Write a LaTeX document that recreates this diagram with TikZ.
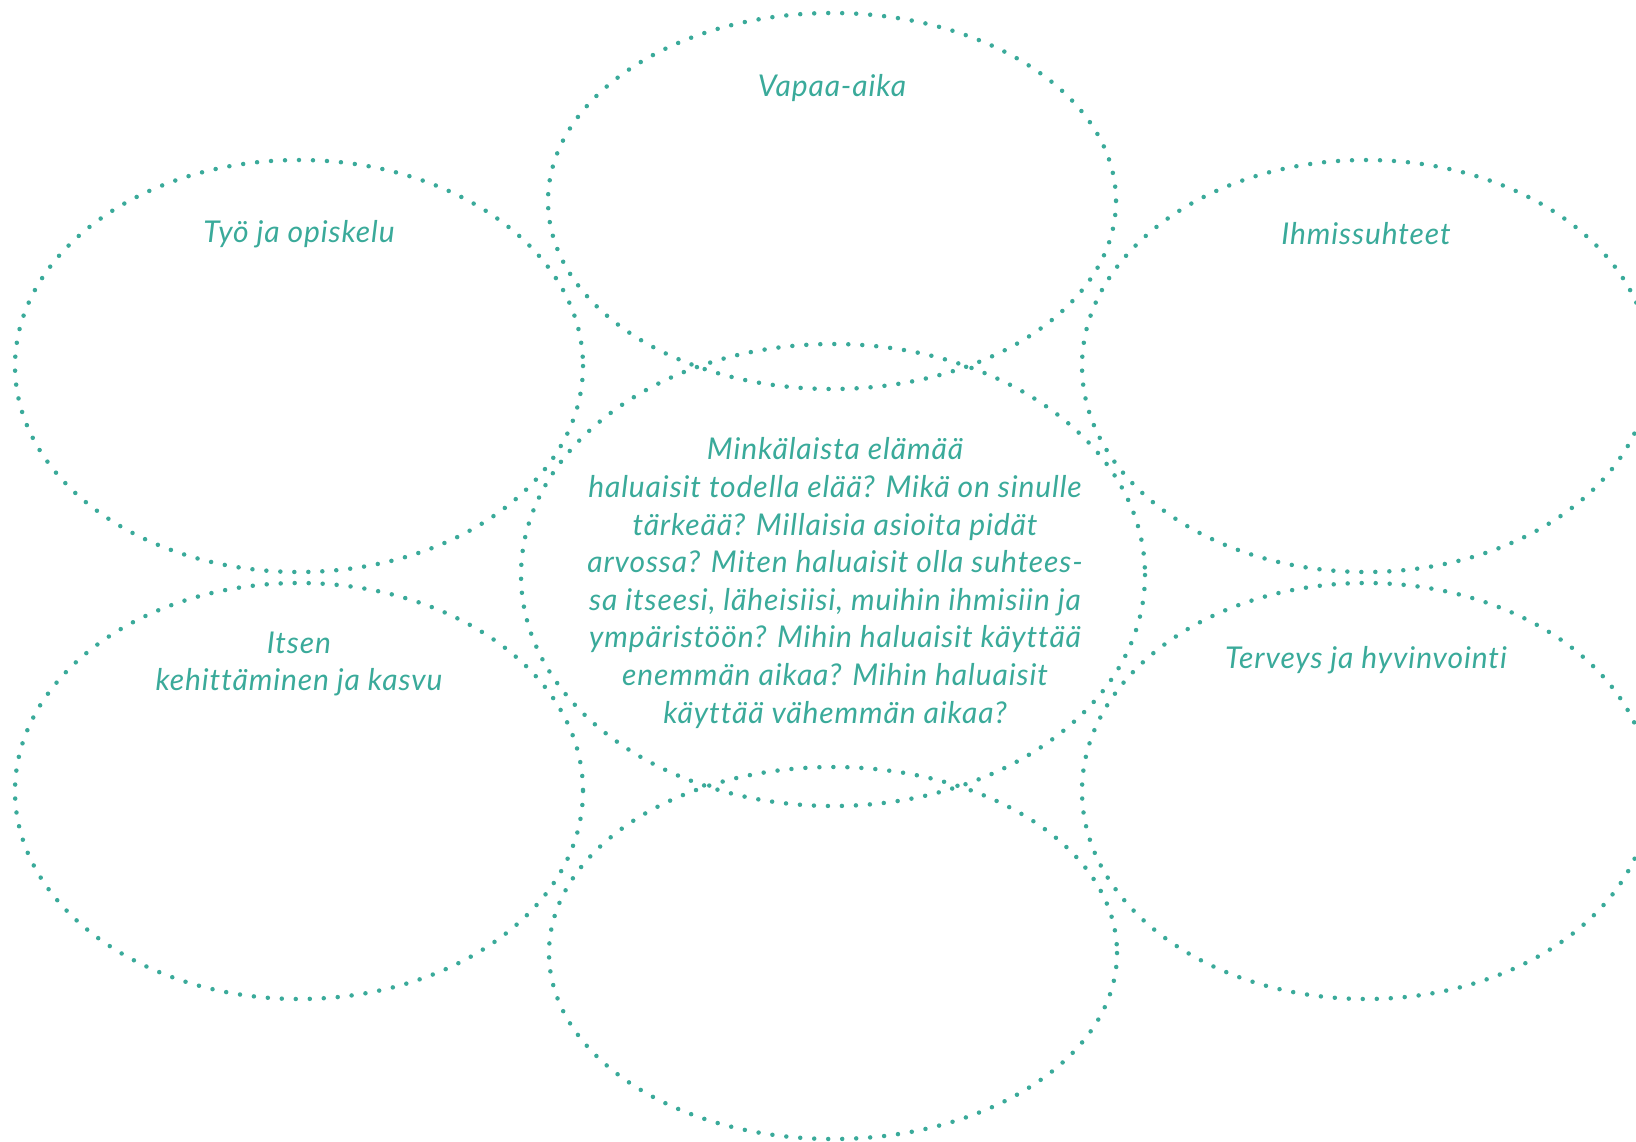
\documentclass[tikz,border=0pt]{standalone}
\usepackage{fontspec}
\setmainfont{Lato}[LetterSpace=3, Ligatures={NoCommon}]
\usepackage{tikz}
\usetikzlibrary{positioning}

\definecolor{teal}{RGB}{58,170,154}

\tikzset{
  ring/.style={draw=teal, line width=4.5pt, line cap=round, dash pattern=on 0pt off 14pt},
  label/.style={text=teal, font=\fontsize{30}{37.6}\selectfont\itshape, align=center, inner sep=0pt}
}

\begin{document}
\begin{tikzpicture}[x=1pt, y=-1pt]
  \useasboundingbox (0,0) rectangle (1636,1141);

  \draw[ring] ( 832, 201) ellipse [x radius=284, y radius=188];
  \draw[ring] ( 299, 366) ellipse [x radius=284, y radius=206];
  \draw[ring] (1366, 366) ellipse [x radius=284, y radius=206];
  \draw[ring] ( 833, 575) ellipse [x radius=312, y radius=231];
  \draw[ring] ( 299, 791) ellipse [x radius=284, y radius=208];
  \draw[ring] (1366, 791) ellipse [x radius=284, y radius=208];
  \draw[ring] ( 833, 953) ellipse [x radius=284, y radius=186];

  \draw ( 832,  88) node[label] (vapaa)   {Vapaa-aika}
        ( 299, 234) node[label] (tyo)     {Työ ja opiskelu}
        (1366, 234) node[label] (ihmiset) {Ihmissuhteet}
        ( 299, 664) node[label] (itsen)   {Itsen\\kehittäminen ja kasvu}
        (1366, 660) node[label] (terveys) {Terveys ja hyvinvointi};

  \draw ( 835, 583) node[label] (kysymys)
        {Minkälaista elämää\\
         haluaisit todella elää? Mikä on sinulle\\
         tärkeää? Millaisia asioita pidät\\
         arvossa? Miten haluaisit olla suhtees-\\
         sa itseesi, läheisiisi, muihin ihmisiin ja\\
         ympäristöön? Mihin haluaisit käyttää\\
         enemmän aikaa? Mihin haluaisit\\
         käyttää vähemmän aikaa?};
\end{tikzpicture}
\end{document}
